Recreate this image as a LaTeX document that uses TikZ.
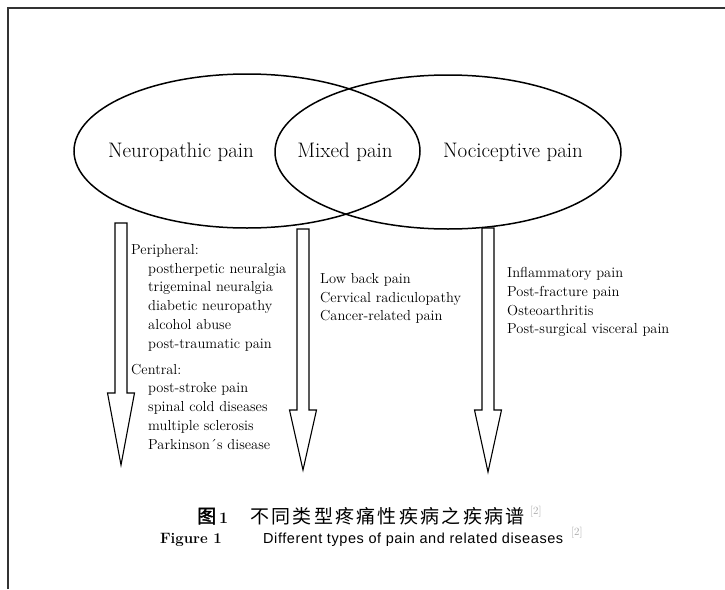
\documentclass[tikz,border=0pt]{standalone}
\usepackage{fontspec}
\newfontfamily\cjk[LetterSpace=12]{Noto Sans CJK SC}
\newfontfamily\cjkbold[FakeBold=2]{Noto Sans CJK SC}
\newfontfamily\capsans[LetterSpace=4]{Liberation Sans}
\usetikzlibrary{positioning,shapes.geometric}

\tikzset{
  painset/.style={draw, ellipse, line width=1.5pt, inner sep=0pt,
    minimum width=346pt, minimum height=154pt},
  painlabel/.style={font=\fontsize{21}{24}\selectfont},
  disease/.style={anchor=north west, align=left, inner sep=0pt,
    font=\fontsize{14.5}{18.8}\selectfont},
  blockarrow/.style={draw, line width=1.1pt, line join=miter},
  caption/.style={anchor=base west, inner sep=0pt},
  citeref/.style={caption, font=\fontsize{11}{11}\selectfont, text=black!35},
}

\begin{document}
\begin{tikzpicture}[x=1pt, y=-1pt]
\useasboundingbox (0,0) rectangle (725,589);
% Frame (only top and left edges are visible)
\draw[line width=2pt, black!80] (8,589) -- (8,8) -- (725,8);

% Two overlapping sets
\node[painset] (neuro) at (247,151) {};
\node[painset] (nocic) at (448,152) {};
\node[painlabel] (neurolbl) at (181,152) {Neuropathic pain};
\node[painlabel] (mixedlbl) at (345,152) {Mixed pain};
\node[painlabel] (nociclbl) at (513,152) {Nociceptive pain};

% Block arrows down from each set (centre / top / head start / tip)
\foreach \xc/\yt/\yh/\ye in {121/223/393/465, 303/229/410/470, 488/228/410/472} {
    \draw[blockarrow] (\xc-6,\yt) -- (\xc+6,\yt) -- (\xc+6,\yh)
        -- (\xc+13.5,\yh) -- (\xc,\ye) -- (\xc-13.5,\yh)
        -- (\xc-6,\yh) -- cycle;
}

% Disease lists
\node[disease] (neurolist) at (131,244) {Peripheral:\\
    \hspace*{17pt}postherpetic neuralgia\\
    \hspace*{17pt}trigeminal neuralgia\\
    \hspace*{17pt}diabetic neuropathy\\
    \hspace*{17pt}alcohol abuse\\
    \hspace*{17pt}post-traumatic pain\\[7pt]
    Central:\\
    \hspace*{17pt}post-stroke pain\\
    \hspace*{17pt}spinal cold diseases\\
    \hspace*{17pt}multiple sclerosis\\
    \hspace*{17pt}Parkinson´s disease};
\node[disease] (mixedlist) at (320,273) {Low back pain\\
    Cervical radiculopathy\\
    Cancer-related pain};
\node[disease] (nociclist) at (507,267) {Inflammatory pain\\
    Post-fracture pain\\
    Osteoarthritis\\
    Post-surgical visceral pain};

% Caption, Chinese and English
\node[caption, font=\fontsize{19}{22}\cjkbold] (fignumcn) at (197,523)
    {图\hspace{3pt}{\rmfamily\bfseries\fontsize{16}{16}\selectfont 1}};
\node[caption, font=\fontsize{19}{22}\cjk] (titlecn) at (250,523)
    {不同类型疼痛性疾病之疾病谱};
\node[citeref] (refcn) at (530,514) {[2]};
\node[caption, anchor=base east, font=\fontsize{15}{18}\selectfont\bfseries] (figen) at (222,543)
    {Figure 1};
\node[caption, font=\fontsize{14.5}{18}\capsans] (titleen) at (263,543)
    {Different types of pain and related diseases};
\node[citeref] (refen) at (571,535) {[2]};
\end{tikzpicture}
\end{document}
